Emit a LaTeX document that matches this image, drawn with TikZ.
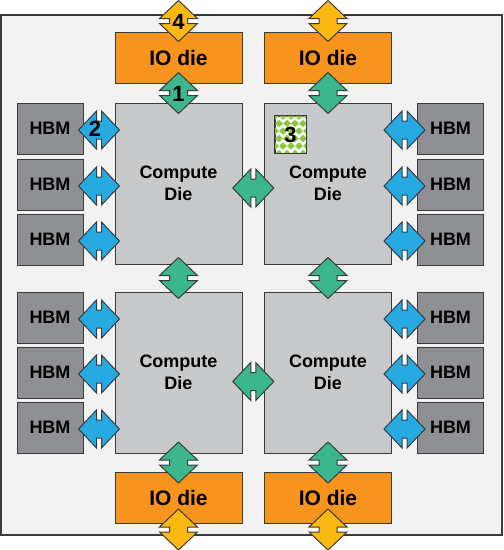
\documentclass[tikz,border=0pt]{standalone}
\usepackage{fontspec}
\setmainfont{Liberation Sans}
\usepackage{tikz}
\usetikzlibrary{calc}
\usetikzlibrary{positioning}
\definecolor{edge}{RGB}{58,58,60}
\definecolor{board}{RGB}{242,242,242}
\definecolor{diegray}{RGB}{200,201,203}
\definecolor{hbmgray}{RGB}{143,144,147}
\definecolor{ioorange}{RGB}{247,148,30}
\definecolor{linkyellow}{RGB}{253,185,19}
\definecolor{linkgreen}{RGB}{60,182,140}
\definecolor{linkblue}{RGB}{39,170,225}
\definecolor{patgreen}{RGB}{141,198,63}
\tikzset{
  die/.style={draw=edge, line width=1pt, fill=diegray, inner sep=0pt,
    minimum width=127pt, minimum height=161pt, align=center,
    font=\fontsize{18}{22}\selectfont\bfseries},
  iodie/.style={die, fill=ioorange, minimum height=51pt,
    font=\fontsize{21}{24}\selectfont\bfseries},
  hbm/.style={die, fill=hbmgray, minimum width=66pt, minimum height=51pt},
  num/.style={font=\fontsize{22}{22}\selectfont\bfseries, inner sep=0pt},
  pics/link/.style={code={
    \fill[white] (-2.5,-19) rectangle (2.5,19);
    \filldraw[fill=#1, draw=edge, line width=1pt, line join=miter]
      (-20.5,0) -- (-2.5,19) -- (-2.5,9) -- (2.5,9) -- (2.5,19) -- (20.5,0)
      -- (2.5,-19) -- (2.5,-9) -- (-2.5,-9) -- (-2.5,-19) -- cycle;
  }}
}
\begin{document}
\begin{tikzpicture}[x=1pt, y=-1pt]
        \useasboundingbox (0,0) rectangle (504,550);
        \filldraw[fill=board, draw=edge, line width=1.2pt] (1,15) rectangle (502,535);

        \node[die] (cdtl) at (178.5,183.5) {Compute\\Die};
        \node[die] (cdtr) at (328,183.5) {Compute\\Die};
        \node[die] (cdbl) at (178.5,372.5) {Compute\\Die};
        \node[die] (cdbr) at (328,372.5) {Compute\\Die};

        \node[iodie] (iotl) [above = 19pt of cdtl] {IO die};
        \node[iodie] (iotr) [above = 19pt of cdtr] {IO die};
        \node[iodie] (iobl) [below = 18pt of cdbl] {IO die};
        \node[iodie] (iobr) [below = 18pt of cdbr] {IO die};

        \foreach \y [count=\i] in {128.5,184.5,239.5,317.5,372.5,427.5} {
            \node[hbm] (hbml\i) at (50,\y) {HBM};
            \node[hbm] (hbmr\i) at (450.5,\y) {HBM};
        }

        % die to die links
        \pic at ($(cdtl.east)!.5!(cdtr.west)+(0,4.5)$) {link=linkgreen};
        \pic at ($(cdbl.east)!.5!(cdbr.west)+(0,9)$) {link=linkgreen};
        \foreach \a/\b in {iotl/cdtl, iotr/cdtr, cdtl/cdbl, cdtr/cdbr, cdbl/iobl, cdbr/iobr}
            \pic[rotate=90] at ($(\a.south)!.5!(\b.north)$) {link=linkgreen};

        % off package links
        \pic[rotate=90] (yl) at ($(iotl.north)+(0,-10.5)$) {link=linkyellow};
        \pic[rotate=90] at ($(iotr.north)+(0,-10.5)$) {link=linkyellow};
        \pic[rotate=90] at ($(iobl.south)+(0,6)$) {link=linkyellow};
        \pic[rotate=90] at ($(iobr.south)+(0,6)$) {link=linkyellow};

        % memory links
        \foreach \i in {1,...,6} {
            \pic at ($(hbml\i.east)!.5!(hbml\i.east -| cdtl.west)+(0,1.5)$) {link=linkblue};
            \pic at ($(hbmr\i.west)!.5!(hbmr\i.west -| cdtr.east)+(0,1.5)$) {link=linkblue};
        }

        % patterned block
        \node[draw=edge, line width=1pt, fill=white, minimum width=31pt, minimum height=37pt, inner sep=0pt] (pat) at (290.5,134.5) {};
        \begin{scope}
            \clip (pat.north west) rectangle (pat.south east);
            \foreach \j in {0,...,5}
                \foreach \k in {0,...,4} {
                    \pgfmathsetmacro{\px}{275+8*\k+4*mod(\j,2)}
                    \pgfmathsetmacro{\py}{116+7.5*\j}
                    \fill[patgreen] (\px-4,\py) -- (\px,\py-3.7) -- (\px+4,\py) -- (\px,\py+3.7) -- cycle;
                }
        \end{scope}
        \draw[edge, line width=1pt] (pat.north west) rectangle (pat.south east);

        \node[num] at ($(iotl.north)+(0,-10)$) {4};
        \node[num] at ($(iotl.south)!.5!(cdtl.north)+(0,1)$) {1};
        \node[num] at ($(hbml1.east)!.5!(hbml1.east -| cdtl.west)+(-4,0)$) {2};
        \node[num] at (pat.center) {3};
\end{tikzpicture}
\end{document}
